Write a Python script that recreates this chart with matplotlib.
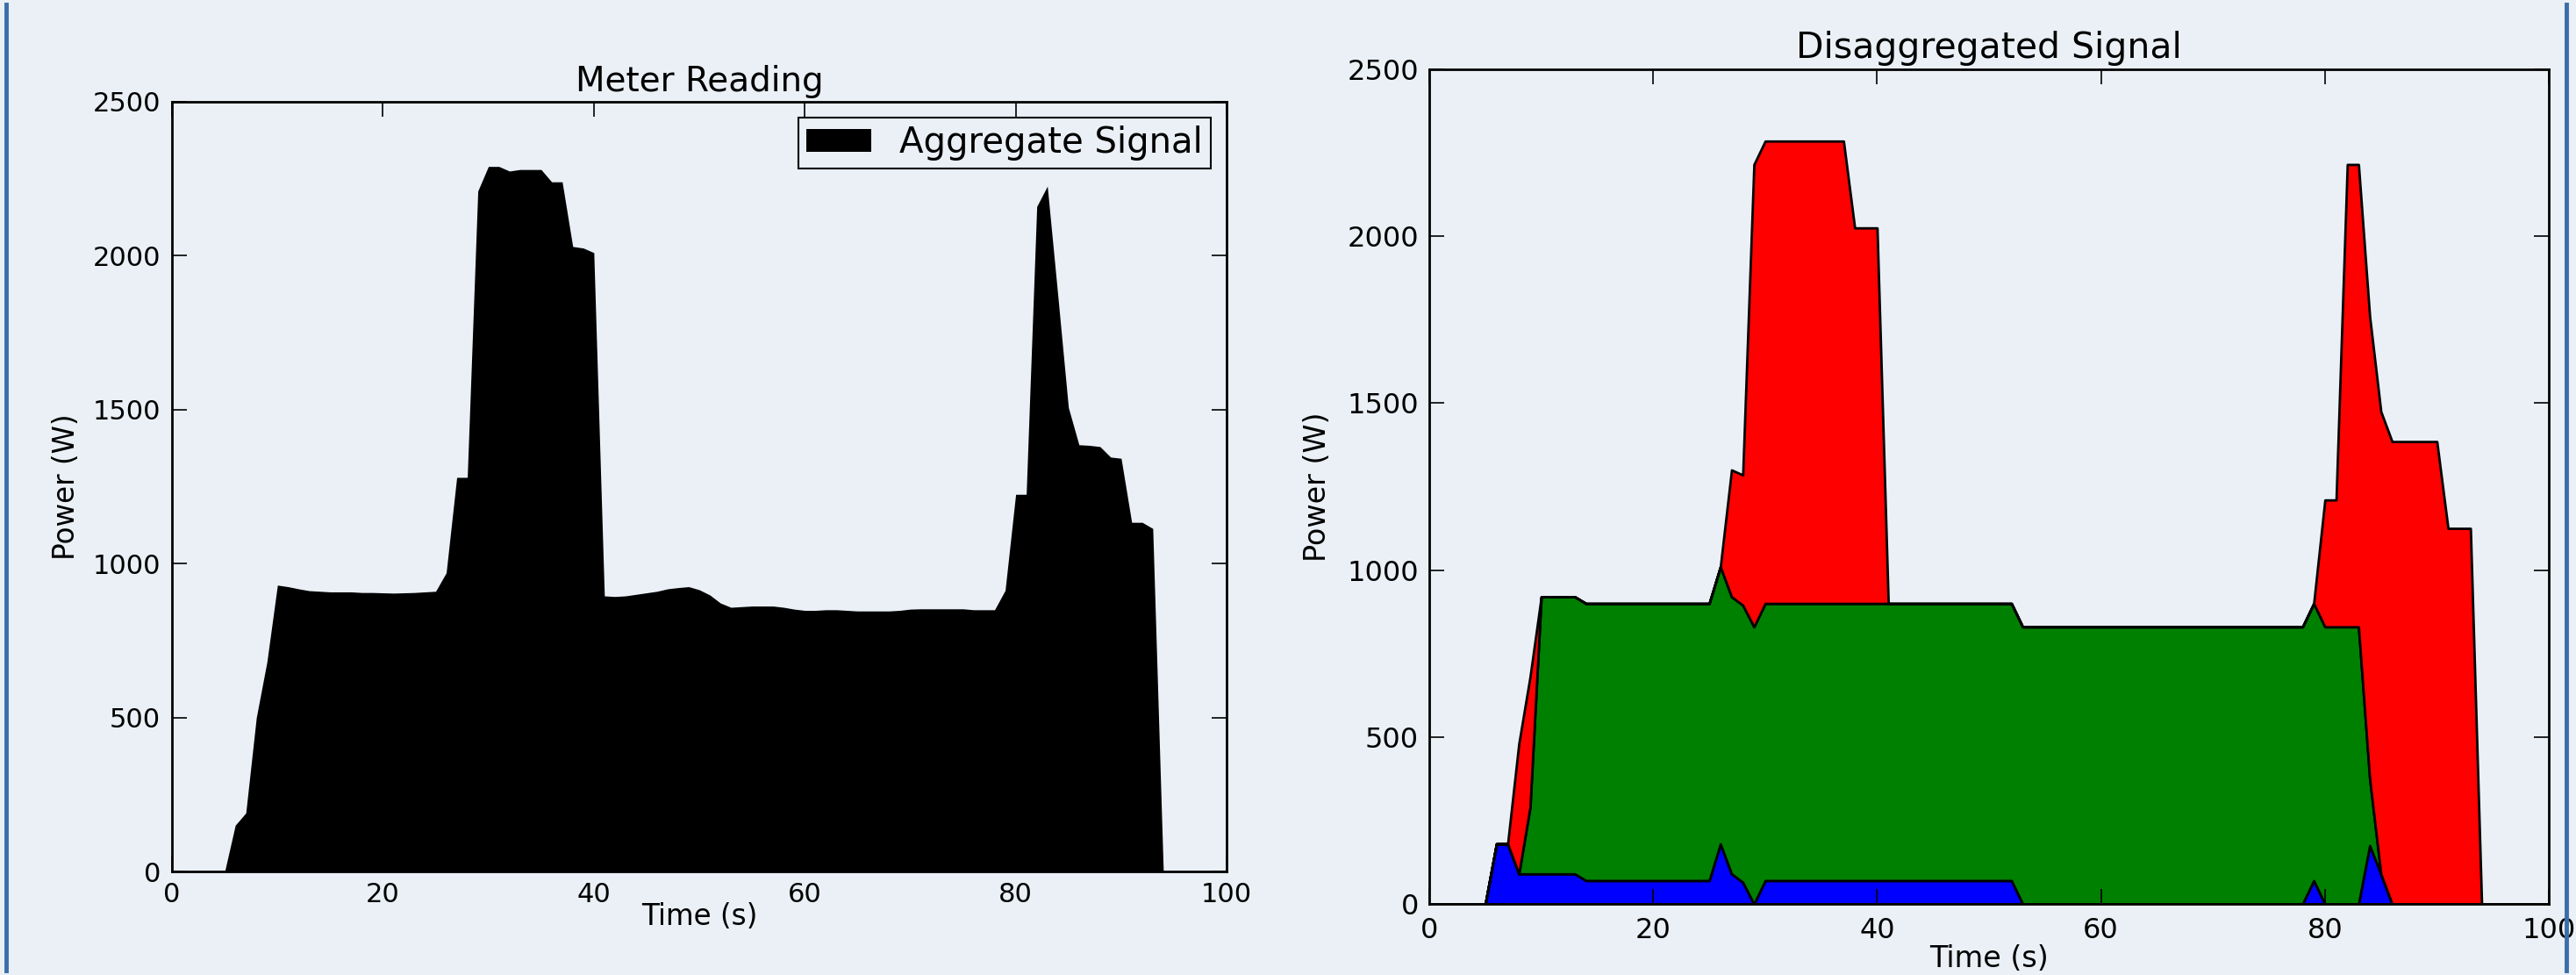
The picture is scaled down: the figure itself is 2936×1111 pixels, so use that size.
import matplotlib
matplotlib.use("Agg")
import matplotlib.pyplot as plt
import numpy as np
from matplotlib.lines import Line2D

# temps en secondes (un point par seconde)
temps = np.arange(0, 100)

signal_agrege = [
    0, 0, 0, 0, 0, 0, 150, 190, 500, 680,
    930, 925, 918, 912, 910, 908, 908, 908, 906, 906,
    905, 904, 905, 906, 908, 910, 970, 1280, 1280, 2210,
    2290, 2290, 2275, 2280, 2280, 2280, 2240, 2240, 2030, 2025,
    2010, 895, 893, 895, 900, 905, 910, 918, 922, 925,
    915, 898, 872, 858, 860, 862, 862, 862, 858, 852,
    848, 848, 850, 850, 848, 846, 846, 846, 846, 848,
    852, 853, 853, 853, 853, 853, 850, 850, 850, 913,
    1225, 1225, 2160, 2226, 1870, 1507, 1386, 1384, 1380, 1346,
    1342, 1134, 1134, 1114, 0, 0, 0, 0, 0, 0,
]

# signaux désagrégés (W), empilés dans cet ordre : bleu, vert, rouge
appareil_bleu = [
    0, 0, 0, 0, 0, 0, 180, 180, 90, 90,
    90, 90, 90, 90, 70, 70, 70, 70, 70, 70,
    70, 70, 70, 70, 70, 70, 180, 90, 65, 0,
    70, 70, 70, 70, 70, 70, 70, 70, 70, 70,
    70, 70, 70, 70, 70, 70, 70, 70, 70, 70,
    70, 70, 70, 0, 0, 0, 0, 0, 0, 0,
    0, 0, 0, 0, 0, 0, 0, 0, 0, 0,
    0, 0, 0, 0, 0, 0, 0, 0, 0, 70,
    0, 0, 0, 0, 175, 90, 0, 0, 0, 0,
    0, 0, 0, 0, 0, 0, 0, 0, 0, 0,
]
appareil_vert = [0] * 9 + [200] + [830] * 74 + [200] + [0] * 15
appareil_rouge = (
    [0] * 8 + [390, 390] + [0] * 17 + [380, 390] + [1385] * 9 + [1125] * 3
    + [0] * 39 + [380, 380] + [1385] * 9 + [1125] * 3 + [0] * 6
)

couleur_fond = "#eaf0f6"
couleur_cadre = "#3b6ea8"


def formater_axe(ax, titre, taille_ticks, taille_label, taille_titre, pad_titre,
                 label_x, label_y, pad_x, pad_y):
    """
    Mise en forme commune des deux graphiques (style matplotlib classique).
    """
    ax.set_facecolor(couleur_fond)
    ax.set_xlim(0, 100)
    ax.set_ylim(0, 2500)
    ax.set_xticks([0, 20, 40, 60, 80, 100])
    ax.set_yticks([0, 500, 1000, 1500, 2000, 2500])
    ax.tick_params(direction="in", length=12, width=1.2, top=True, right=True,
                   labelsize=taille_ticks, color="k")
    ax.tick_params(axis="x", pad=pad_x)
    ax.tick_params(axis="y", pad=pad_y)
    for spine in ax.spines.values():
        spine.set_linewidth(2)
    ax.set_title(titre, fontsize=taille_titre, pad=pad_titre)
    ax.set_xlabel("Time (s)", fontsize=taille_label)
    ax.set_ylabel("Power (W)", fontsize=taille_label)
    ax.xaxis.set_label_coords(0.5, label_x)
    ax.yaxis.set_label_coords(label_y, 0.5)


fig = plt.figure(figsize=(29.36, 11.11), dpi=100, facecolor=couleur_fond)

# graphique de gauche : lecture du compteur
ax1 = fig.add_axes([0.06676, 0.10621, 0.40940, 0.78938])
ax1.fill_between(temps, signal_agrege, 0, color="k", linewidth=0,
                 label="Aggregate Signal")
formater_axe(ax1, "Meter Reading", 22, 23.5, 28, 8.5, -0.040, -0.0865, 8.6, 9.4)
leg = ax1.legend(loc="upper right", fontsize=29, fancybox=False, framealpha=1,
                 facecolor=couleur_fond, edgecolor="k", handlelength=1.85,
                 handleheight=0.6, handletextpad=0.8, borderpad=0.22,
                 borderaxespad=0.45)
leg.get_frame().set_linewidth(1.5)

# graphique de droite : signal désagrégé
ax2 = fig.add_axes([0.55484, 0.07291, 0.43460, 0.85599])
ax2.stackplot(temps, appareil_bleu, appareil_vert, appareil_rouge,
              colors=["#0000ff", "#008000", "#ff0000"],
              edgecolor="k", linewidth=2)
formater_axe(ax2, "Disaggregated Signal", 23, 24, 29.5, 9, -0.048, -0.087, 10.5, 8.6)

# cadre bleu de la page
for x in [7, 2925]:
    fig.add_artist(Line2D([x / 2936, x / 2936], [5 / 1111, 1 - 5 / 1111],
                          transform=fig.transFigure, color=couleur_cadre,
                          linewidth=3.5))

fig.savefig("out.png", dpi=100, facecolor=couleur_fond)
